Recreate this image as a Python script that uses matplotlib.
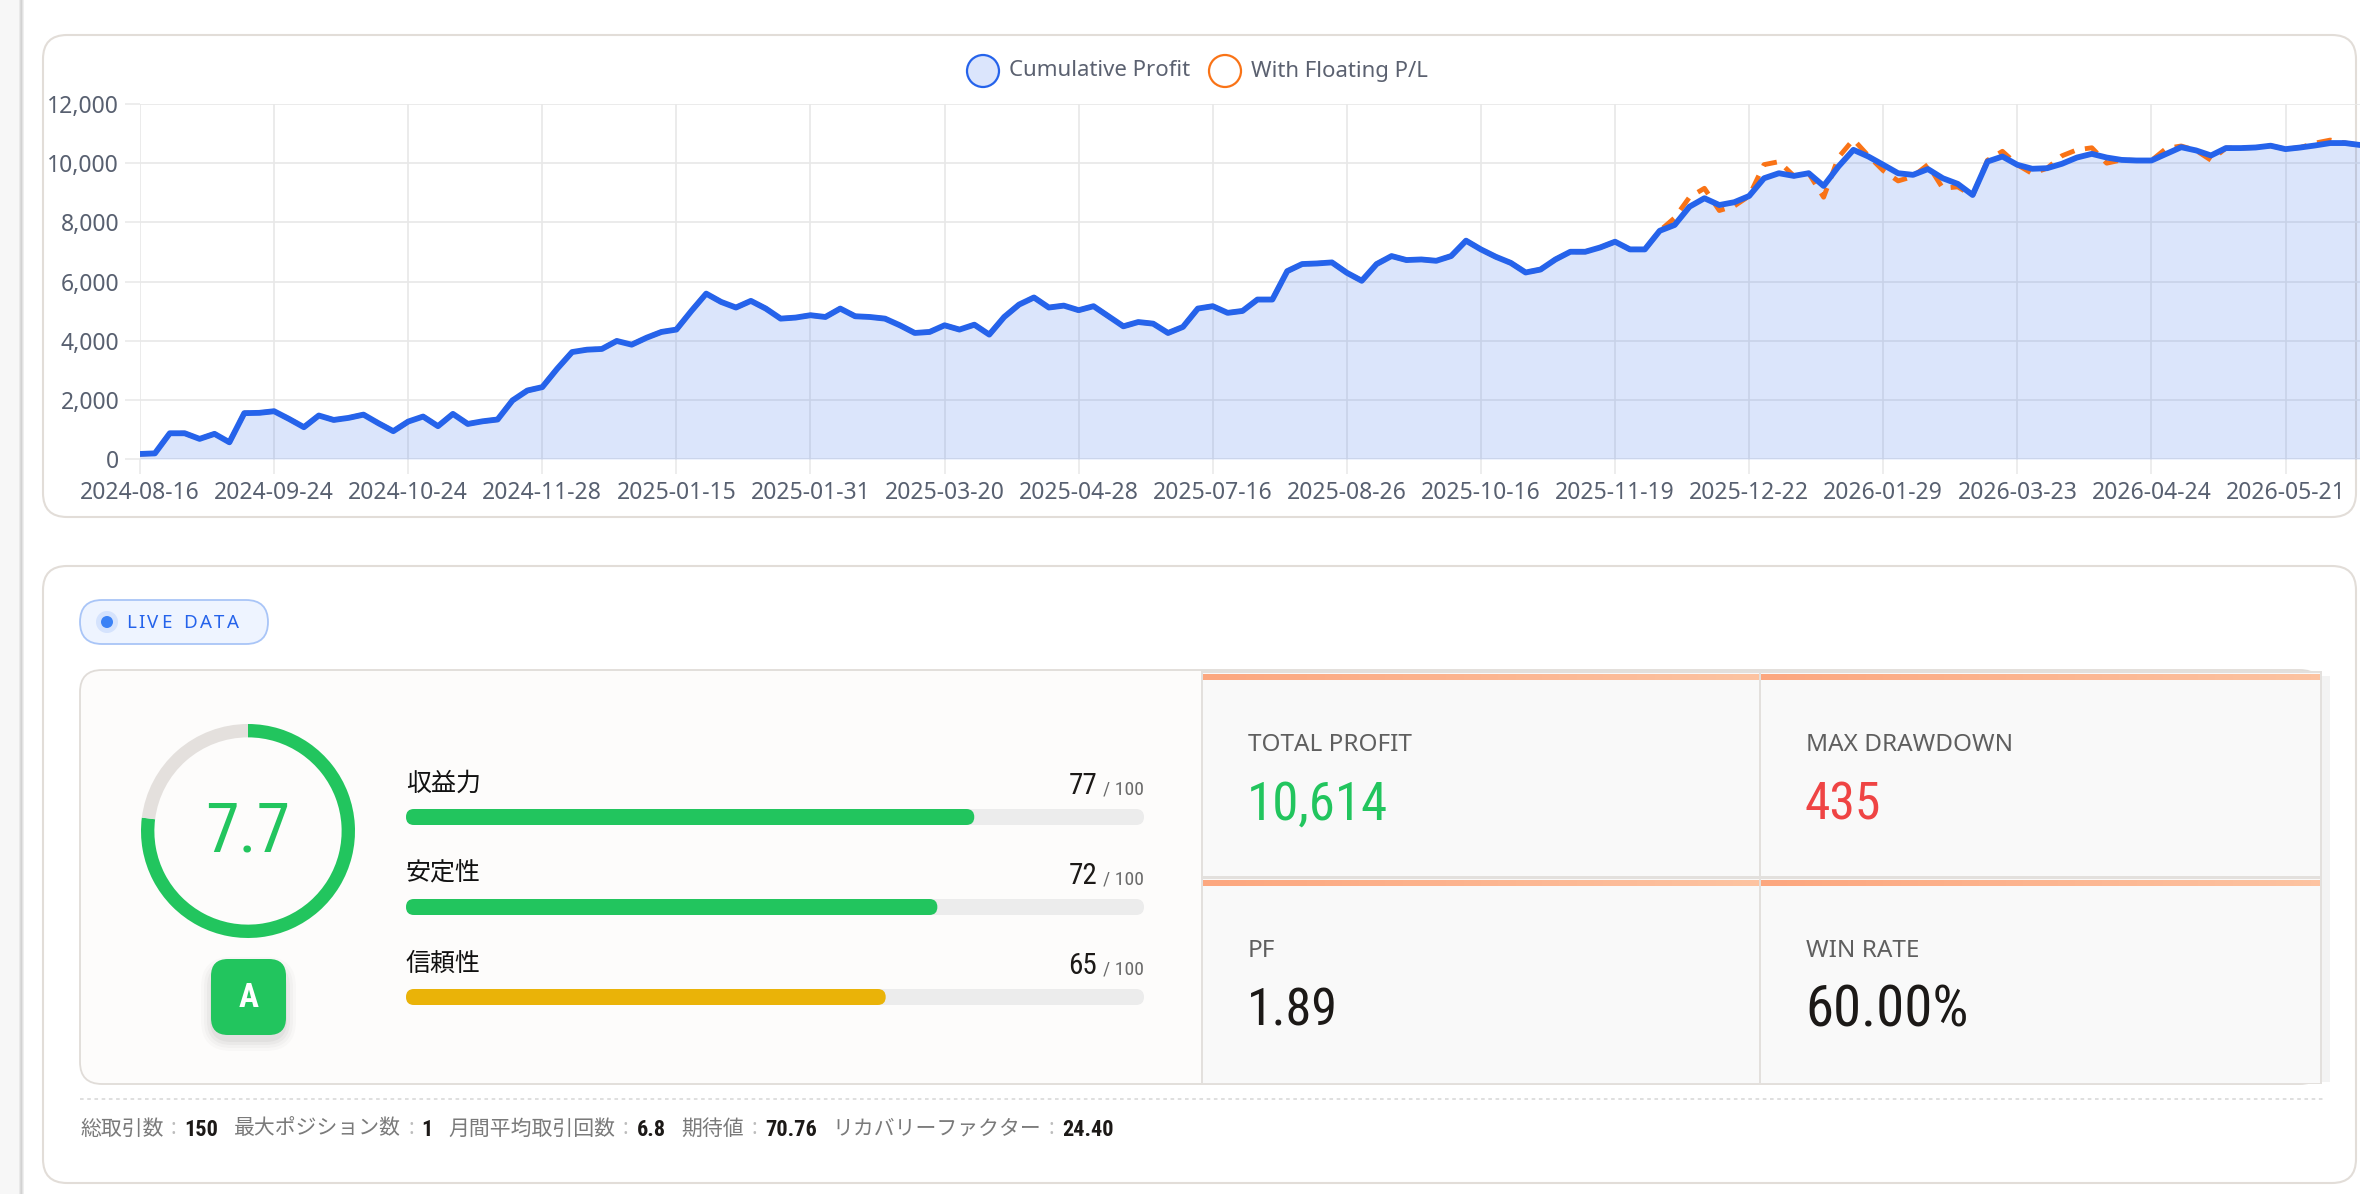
import os
import numpy as np
import matplotlib
matplotlib.use('Agg')
import matplotlib.pyplot as plt
from matplotlib.patches import FancyBboxPatch, Circle, Rectangle
from matplotlib.ticker import FuncFormatter
from matplotlib.colors import LinearSegmentedColormap
from matplotlib.font_manager import FontProperties
from matplotlib import font_manager

# equity curve, one point per closed trade
cum_profit = [170, 190, 870, 870, 680, 850, 565, 1550, 1560, 1615,
              1355, 1075, 1470, 1320, 1390, 1500, 1210, 940, 1265, 1435,
              1110, 1525, 1185, 1275, 1335, 1980, 2315, 2430, 3050, 3615,
              3695, 3720, 3990, 3865, 4100, 4295, 4375, 5000, 5590, 5310,
              5120, 5345, 5085, 4745, 4780, 4860, 4800, 5085, 4825, 4800,
              4745, 4520, 4260, 4295, 4520, 4375, 4540, 4205, 4800, 5220,
              5460, 5120, 5185, 5030, 5165, 4825, 4485, 4630, 4575, 4260,
              4465, 5085, 5165, 4940, 5005, 5390, 5390, 6350, 6590, 6610,
              6645, 6295, 6025, 6590, 6860, 6725, 6745, 6700, 6860, 7380,
              7085, 6835, 6630, 6305, 6405, 6745, 7005, 7005, 7150, 7345,
              7085, 7085, 7715, 7910, 8530, 8815, 8585, 8680, 8890, 9490,
              9660, 9570, 9660, 9230, 9890, 10450, 10225, 9945, 9660, 9605,
              9800, 9490, 9300, 8925, 10055, 10225, 9945, 9810, 9830, 9980,
              10190, 10315, 10190, 10110, 10090, 10090, 10315, 10540, 10430, 10260,
              10510, 10510, 10530, 10590, 10475, 10530, 10600, 10680, 10680, 10614]

# points where the floating P/L line differs from the closed curve
floating_diff = {103: 8150, 104: 8850, 105: 9150, 106: 8400, 107: 8550,
                 109: 9950, 110: 10050, 113: 8850, 114: 10200, 115: 10800,
                 116: 10250, 117: 9750, 118: 9400, 119: 9550, 120: 9950,
                 121: 9150, 122: 9200, 123: 8900, 124: 10100, 125: 10400,
                 127: 9650, 129: 10250, 130: 10450, 131: 10520, 132: 10000,
                 136: 10500, 137: 10580, 139: 10100, 146: 10680, 147: 10780}

tick_labels = ['2024-08-16', '2024-09-24', '2024-10-24', '2024-11-28', '2025-01-15',
               '2025-01-31', '2025-03-20', '2025-04-28', '2025-07-16', '2025-08-26',
               '2025-10-16', '2025-11-19', '2025-12-22', '2026-01-29', '2026-03-23',
               '2026-04-24', '2026-05-21']
tick_step = 9
series_names = ['Cumulative Profit', 'With Floating P/L']

overall_score = 7.7
grade = 'A'
score_labels = ['収益力', '安定性', '信頼性']
score_values = [77, 72, 65]
score_max = 100

metric_labels = ['TOTAL PROFIT', 'MAX DRAWDOWN', 'PF', 'WIN RATE']
metric_values = ['10,614', '435', '1.89', '60.00%']

footer_labels = ['総取引数', '最大ポジション数', '月間平均取引回数', '期待値', 'リカバリーファクター']
footer_values = ['150', '1', '6.8', '70.76', '24.40']

BLUE = '#2563eb'
ORANGE = '#f97316'
GREEN = '#22c55e'
YELLOW = '#eab308'
RED = '#ef4444'
INK = '#1c1917'
metric_colors = [GREEN, RED, INK, INK]
bar_colors = [GREEN, GREEN, YELLOW]

plt.rcParams['font.family'] = ['Noto Sans', 'Noto Sans CJK JP', 'DejaVu Sans']


def find_font(prefixes):
    files = [f.fname for f in font_manager.fontManager.ttflist]
    for p in prefixes:
        for fn in files:
            if os.path.basename(fn).lower().startswith(p.lower()):
                return fn
    return None


# the big numbers in the screenshot use a narrow face
narrow = find_font(['LiberationSansNarrow-Regular', 'RobotoCondensed-Regular',
                    'Roboto-Condensed', 'DejaVuSansCondensed.', 'NotoSans-Condensed.',
                    'OpenSans-CondensedRegular', 'OpenSans_Condensed-Regular'])
narrow_b = find_font(['LiberationSansNarrow-Bold.', 'RobotoCondensed-Bold.',
                      'Roboto-BoldCondensed.', 'DejaVuSansCondensed-Bold.', 'NotoSans-CondensedBold.'])
NUM = FontProperties(fname=narrow) if narrow else FontProperties(family='Liberation Sans')
NUM_B = FontProperties(fname=narrow_b) if narrow_b else FontProperties(family='Liberation Sans', weight='bold')

W, H = 2360, 1194
fig = plt.figure(figsize=(W / 100, H / 100), dpi=100)
fig.patch.set_facecolor('white')

# full-figure axes in pixel units for the page furniture
bg = fig.add_axes([0, 0, 1, 1])
bg.set_xlim(0, W)
bg.set_ylim(H, 0)
bg.axis('off')
renderer = fig.canvas.get_renderer()


def rbox(x0, y0, x1, y1, r, fc, ec='none', lw=1.2, z=1):
    p = FancyBboxPatch((x0, y0), x1 - x0, y1 - y0,
                       boxstyle=f'round,pad=0,rounding_size={r}',
                       fc=fc, ec=ec, lw=lw, zorder=z)
    bg.add_patch(p)
    return p


def width_px(t):
    return t.get_window_extent(renderer).width


def fit_text(x, y, s, size, target_w, prop, **kw):
    # shrink towards the reference width, partly keeping the height
    t = bg.text(x, y, s, fontproperties=prop, fontsize=size, **kw)
    w = width_px(t)
    if w > target_w:
        t.set_fontsize(size * (target_w / w) ** 0.6)
    return t


# page edge
bg.add_patch(Rectangle((0, 0), 19, H, fc='#f7f7f7', ec='none', zorder=0))
for i, c in enumerate(['#e9e9e9', '#dadada', '#d2d2d2', '#e2e2e2', '#efefef']):
    bg.add_patch(Rectangle((19 + i, 0), 1.2, H, fc=c, ec='none', zorder=0))

# cards
rbox(43, 35, 2356, 517, 24, 'white', '#e2ddd8', 1.5)
rbox(43, 566, 2356, 1183, 24, 'white', '#e2ddd8', 1.5)

# legend
legend_x = [983, 1225]
for name, cx, fc, ec in zip(series_names, legend_x, ['#dbe5fc', 'white'], [BLUE, ORANGE]):
    bg.add_patch(Circle((cx, 71), 16, fc=fc, ec=ec, lw=1.6, zorder=3))
    bg.text(cx + 26, 71, name, fontsize=16, color='#5b6170', va='center', ha='left', zorder=3)

# ---- equity chart ----
ax = fig.add_axes([140 / W, 1 - 459 / H, (W - 140) / W, 355 / H])
ax.set_facecolor('none')
x = np.arange(len(cum_profit))
floating = [floating_diff.get(i, v) for i, v in enumerate(cum_profit)]
ax.fill_between(x, cum_profit, 0, color=BLUE, alpha=0.16, lw=0, zorder=1)
ax.plot(x, floating, color=ORANGE, lw=3.5, dashes=(3, 2.2), zorder=2)
ax.plot(x, cum_profit, color=BLUE, lw=4.2, zorder=3,
        solid_joinstyle='round', solid_capstyle='round')
ax.set_xlim(0, len(cum_profit) - 1)
ax.set_ylim(0, 12000)
ax.set_xticks(x[::tick_step])
ax.set_xticklabels(tick_labels)
ax.set_yticks(np.arange(0, 12001, 2000))
ax.yaxis.set_major_formatter(FuncFormatter(lambda v, p: f'{int(v):,}'))
ax.set_axisbelow(True)
ax.grid(color='#e8e8e8', lw=1.2)
for s in ax.spines.values():
    s.set_visible(False)
ax.tick_params(axis='both', length=11, width=1.1, color='#e8e8e8',
               labelsize=16.5, labelcolor='#586070')
ax.tick_params(axis='x', pad=5)
ax.tick_params(axis='y', pad=4)

# ---- score panel ----
rbox(80, 670, 2322, 1084, 22, '#fdfcfb', '#e0dcd8', 1.3)

# live data pill
rbox(80, 600, 268, 644, 22, '#eef4ff', '#a9c5f7', 1.3, z=2)
bg.add_patch(Circle((107, 622), 11, fc='#d5e3fd', ec='none', zorder=3))
bg.add_patch(Circle((107, 622), 6, fc='#3b82f6', ec='none', zorder=4))
cx = 126
for ch in 'LIVE DATA':
    t = bg.text(cx, 623, ch, fontsize=13.5, color=BLUE, va='center', ha='left', zorder=4)
    cx += width_px(t) + 2.6 if ch != ' ' else 9

# gauge
gx, gy, gr = 248, 831, 107
ax_g = fig.add_axes([(gx - gr) / W, 1 - (gy + gr) / H, 2 * gr / W, 2 * gr / H])
ax_g.pie([overall_score * 10, 100 - overall_score * 10], colors=[GREEN, '#e4e0dd'],
         startangle=90, counterclock=False, radius=1,
         wedgeprops=dict(width=0.125, edgecolor='none'))
ax_g.set_xlim(-1, 1)
ax_g.set_ylim(-1, 1)
ax_g.set_facecolor('none')
fit_text(gx, gy + 2, f'{overall_score:.1f}', 50, 84, NUM, color=GREEN,
         ha='center', va='center', zorder=5)

# grade badge with soft shadow
for k, a in enumerate([0.035, 0.03, 0.025, 0.02]):
    e = 3 + k * 3
    rbox(211 - e + 2, 961 - e + 8, 286 + e - 2, 1035 + e + 4, 18 + e, (0, 0, 0, a), z=3)
rbox(211, 959, 286, 1035, 17, GREEN, z=4)
bg.text(248.5, 998, grade, fontproperties=NUM_B, fontsize=24, color='white',
        ha='center', va='center', zorder=5)

# score bars
bx0, bx1 = 406, 1144
ax_b = fig.add_axes([bx0 / W, 1 - 1042 / H, (bx1 - bx0) / W, 270 / H])
ax_b.set_xlim(0, score_max)
ax_b.set_ylim(len(score_values) - 0.5, -0.5)
ax_b.axis('off')
bh = 16 / 90
tracks = ax_b.barh(range(len(score_values)), [score_max] * len(score_values), height=bh, color='#ececec')
fills = ax_b.barh(range(len(score_values)), score_values, height=bh, color=bar_colors)
xu = score_max / (bx1 - bx0)
aspect = (1 / 90) / xu
for rect in list(tracks) + list(fills):
    rect.set_visible(False)
    ax_b.add_patch(FancyBboxPatch((rect.get_x(), rect.get_y()), rect.get_width(), rect.get_height(),
                                  boxstyle=f'round,pad=0,rounding_size={8 * xu}',
                                  mutation_aspect=aspect, fc=rect.get_facecolor(), ec='none'))

for i, (lab, val) in enumerate(zip(score_labels, score_values)):
    yb = 817 + i * 90
    bg.text(bx0, yb - 33, lab, fontsize=18, color='#111111', ha='left', va='center', zorder=3)
    t = bg.text(bx1, yb - 23, f'/ {score_max}', fontproperties=NUM, fontsize=14, color='#6b6b6b',
                ha='right', va='baseline', zorder=3)
    bg.text(bx1 - width_px(t) - 6, yb - 23, str(val), fontproperties=NUM, fontsize=21, color=INK,
            ha='right', va='baseline', zorder=3)

# metric cells
cells = [(1203, 673, 1759, 876), (1761, 673, 2320, 876),
         (1203, 879, 1759, 1083), (1761, 879, 2320, 1083)]
value_w = [135, 72, 86, 166]
peach = LinearSegmentedColormap.from_list('peach', ['#fca77f', '#fdc3a1'])
bg.add_patch(Rectangle((1201, 671), 1121, 413, fc='#e3e0dd', ec='none', zorder=2))
bg.add_patch(Rectangle((2322, 676), 8, 406, fc='#f3f3f3', ec='none', zorder=1))
for (x0, y0, x1, y1), lab, val, col, tw in zip(cells, metric_labels, metric_values,
                                                metric_colors, value_w):
    bg.add_patch(Rectangle((x0, y0), x1 - x0, y1 - y0, fc='#f9f9f9', ec='none', zorder=3))
    bg.imshow(np.linspace(0, 1, 64).reshape(1, -1), extent=(x0, x1, y0 + 7, y0 + 1),
              cmap=peach, aspect='auto', zorder=4)
    bg.text(x0 + 45, y0 + 72, lab, fontsize=17.5, color='#5f5f5f', ha='left', va='center', zorder=5)
    fit_text(x0 + 44, y0 + 132, val, 41, tw, NUM, color=col, ha='left', va='center', zorder=5)
bg.set_xlim(0, W)
bg.set_ylim(H, 0)

# footer
bg.plot([80, 2325], [1099, 1099], color='#dcdcdc', lw=1.3, dashes=(2, 2), zorder=2)
fx = 80
for lab, val in zip(footer_labels, footer_values):
    t = bg.text(fx, 1129, lab, fontsize=15, color='#7a7a7a', ha='left', va='center', zorder=3)
    fx += width_px(t) + 7
    t = bg.text(fx, 1129, ':', fontsize=15, color='#bdbdbd', ha='left', va='center', zorder=3)
    fx += width_px(t) + 8
    t = bg.text(fx, 1130, val, fontproperties=NUM_B, fontsize=16, color=INK,
                ha='left', va='center', zorder=3)
    fx += width_px(t) + 16

fig.savefig('out.png', dpi=100, facecolor='white')
